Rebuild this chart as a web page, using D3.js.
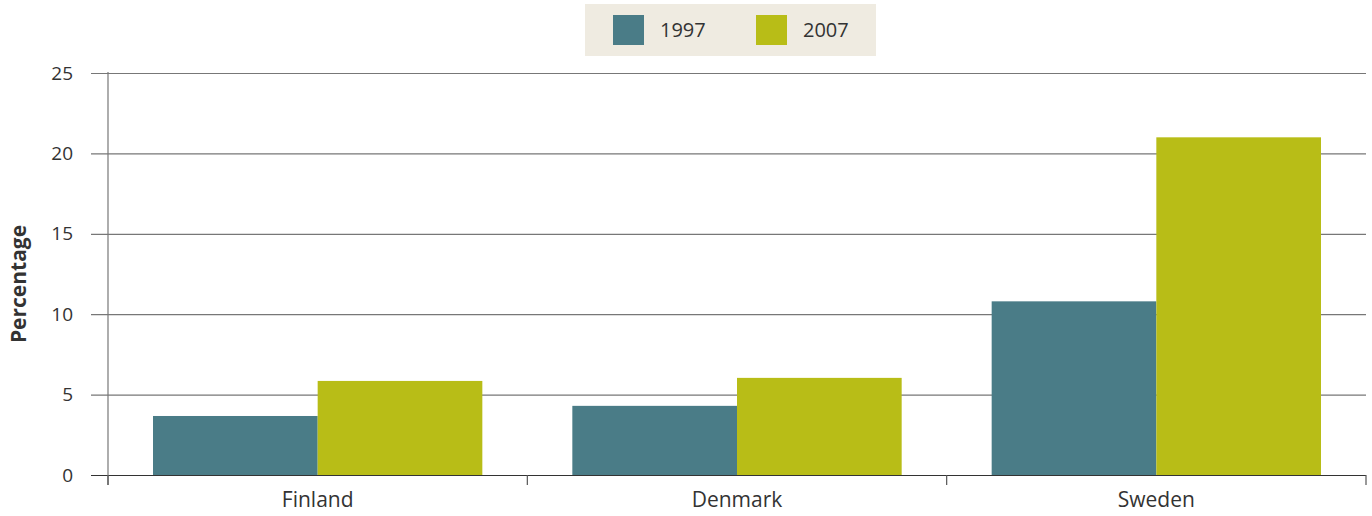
<!DOCTYPE html>
<html>
<head>
<meta charset="utf-8">
<script src="https://cdn.jsdelivr.net/npm/d3@7"></script>
<style>
  body { margin: 0; background: #fff; }
  text { font-family: "Open Sans", "Noto Sans", sans-serif; fill: #333; }
</style>
</head>
<body>
<div id="chart"></div>
<script>
var categories = ["Finland", "Denmark", "Sweden"],
    seriesNames = ["1997", "2007"],
    values1997 = [3.67, 4.3, 10.8],
    values2007 = [5.85, 6.04, 21.0],
    yTicks = [0, 5, 10, 15, 20, 25];

var width = 1372, height = 516,
    margin = {left: 108, right: 6, top: 73, bottom: 41},
    colors = ["#4a7c87", "#b8bd17"];

var svg = d3.select("#chart").append("svg")
    .attr("width", width)
    .attr("height", height);

var x = d3.scaleBand()
    .domain(categories)
    .range([margin.left, width - margin.right])
    .paddingInner(0)
    .paddingOuter(0);

// keep 45px either side of the pair of bars
var inner = d3.scaleBand()
    .domain(seriesNames)
    .range([45, x.bandwidth() - 45])
    .padding(0);

var y = d3.scaleLinear()
    .domain([0, 25])
    .range([height - margin.bottom, margin.top]);

// gridlines + y ticks
var yAxis = svg.append("g")
    .attr("transform", "translate(" + margin.left + ",0)")
    .call(d3.axisLeft(y).tickValues(yTicks)
        .tickSize(-(width - margin.right - margin.left))
        .tickPadding(35));
yAxis.select(".domain").remove();
yAxis.selectAll(".tick line")
    .attr("x1", -17)
    .attr("stroke", function(d) { return d === 0 ? "#333" : "#777"; })
    .attr("stroke-width", 1.2);
yAxis.selectAll(".tick text")
    .style("font-size", "19px")
    .attr("fill", "#333");

// bars
var data = categories.map(function(c, i) {
    return {cat: c, vals: [values1997[i], values2007[i]]};
});
var groups = svg.append("g").selectAll("g")
    .data(data)
    .enter().append("g")
    .attr("transform", function(d) { return "translate(" + x(d.cat) + ",0)"; });
groups.selectAll("rect")
    .data(function(d) { return d.vals.map(function(v, j) { return {s: seriesNames[j], v: v, j: j}; }); })
    .enter().append("rect")
    .attr("x", function(d) { return inner(d.s); })
    .attr("width", inner.bandwidth())
    .attr("y", function(d) { return y(d.v); })
    .attr("height", function(d) { return y(0) - y(d.v); })
    .attr("fill", function(d) { return colors[d.j]; });

// y axis line
svg.append("line")
    .attr("x1", margin.left).attr("x2", margin.left)
    .attr("y1", margin.top - 1).attr("y2", y(0) + 10)
    .attr("stroke", "#777").attr("stroke-width", 1.2);

// x axis
var xAxis = svg.append("g")
    .attr("transform", "translate(0," + y(0) + ")")
    .call(d3.axisBottom(x).tickSize(0).tickPadding(17));
xAxis.select(".domain").remove();
xAxis.selectAll(".tick text").style("font-size", "21px").attr("fill", "#333");
var boundaries = categories.map(function(c) { return x(c); }).concat([x(categories[categories.length - 1]) + x.bandwidth()]);
svg.append("g").selectAll("line")
    .data(boundaries)
    .enter().append("line")
    .attr("x1", function(d) { return d; }).attr("x2", function(d) { return d; })
    .attr("y1", y(0)).attr("y2", y(0) + 10)
    .attr("stroke", "#555").attr("stroke-width", 1.2);

// y title
svg.append("text")
    .attr("transform", "translate(26," + ((y(0) + y(25)) / 2 + 10) + ") rotate(-90)")
    .attr("text-anchor", "middle")
    .style("font-size", "21px")
    .style("font-weight", "bold")
    .attr("fill", "#111")
    .text("Percentage");

// legend
var legend = svg.append("g");
legend.append("rect")
    .attr("x", 585).attr("y", 4)
    .attr("width", 291).attr("height", 52)
    .attr("fill", "#efebe1");
var items = legend.selectAll("g")
    .data(seriesNames)
    .enter().append("g")
    .attr("transform", function(d, i) { return "translate(" + (613 + i * 143) + ",15)"; });
items.append("rect")
    .attr("width", 31).attr("height", 30)
    .attr("fill", function(d, i) { return colors[i]; });
items.append("text")
    .attr("x", 47).attr("y", 22)
    .style("font-size", "20px")
    .attr("fill", "#444")
    .text(function(d) { return d; });
</script>
</body>
</html>
